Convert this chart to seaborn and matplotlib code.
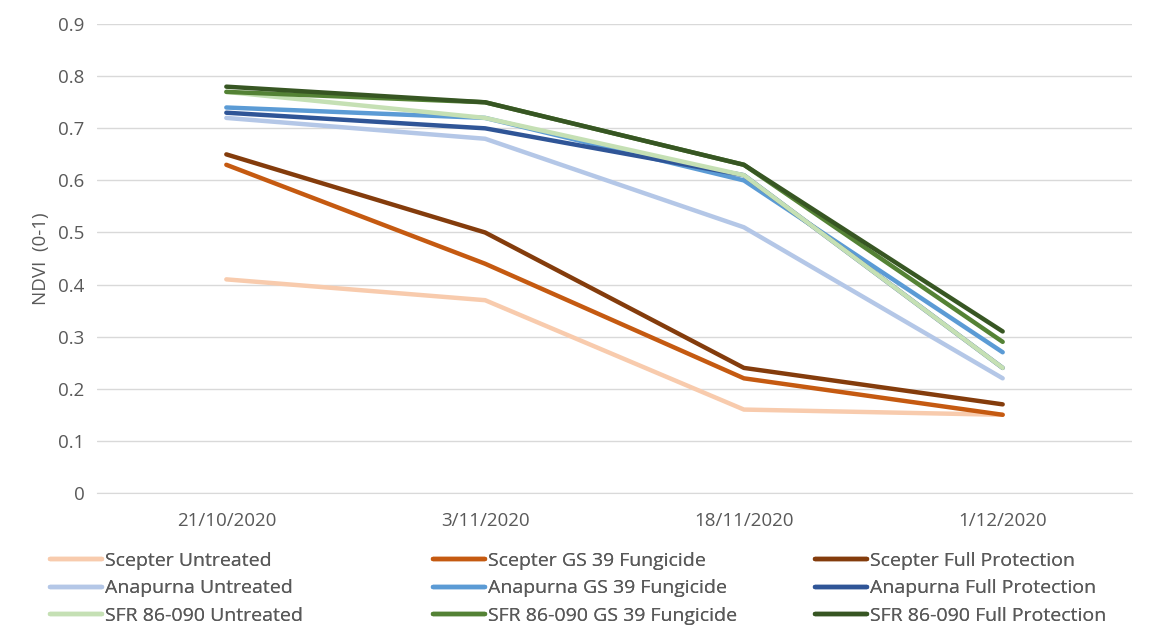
import pandas as pd
import seaborn as sns
import matplotlib.pyplot as plt

dates = ['21/10/2020', '3/11/2020', '18/11/2020', '1/12/2020']

scepter_untreated = [0.41, 0.37, 0.16, 0.15]
scepter_gs39 = [0.63, 0.44, 0.22, 0.15]
scepter_full = [0.65, 0.50, 0.24, 0.17]
anapurna_untreated = [0.72, 0.68, 0.51, 0.22]
anapurna_gs39 = [0.74, 0.72, 0.60, 0.27]
anapurna_full = [0.73, 0.70, 0.61, 0.24]
sfr_untreated = [0.77, 0.72, 0.61, 0.24]
sfr_gs39 = [0.77, 0.75, 0.63, 0.29]
sfr_full = [0.78, 0.75, 0.63, 0.31]

series = {
    'Scepter Untreated': scepter_untreated,
    'Scepter GS 39 Fungicide': scepter_gs39,
    'Scepter Full Protection': scepter_full,
    'Anapurna Untreated': anapurna_untreated,
    'Anapurna GS 39 Fungicide': anapurna_gs39,
    'Anapurna Full Protection': anapurna_full,
    'SFR 86-090 Untreated': sfr_untreated,
    'SFR 86-090 GS 39 Fungicide': sfr_gs39,
    'SFR 86-090 Full Protection': sfr_full,
}
colors = ['#F8CBAD', '#C55A11', '#843C0C',
          '#B4C7E7', '#5B9BD5', '#2F5597',
          '#C5E0B4', '#548235', '#375623']

rows = []
for name, vals in series.items():
    for d, v in zip(dates, vals):
        rows.append({'date': d, 'ndvi': v, 'treatment': name})
df = pd.DataFrame(rows)

sns.set_style('white')
plt.rcParams['font.family'] = ['Open Sans', 'DejaVu Sans']

fig, ax = plt.subplots(figsize=(11.54, 6.36), dpi=100)
fig.subplots_adjust(left=0.084, right=0.981, top=0.962, bottom=0.225)

sns.lineplot(data=df, x='date', y='ndvi', hue='treatment', palette=colors,
             linewidth=3.2, sort=False, ax=ax, legend=True)

ax.set_xlim(-0.5, 3.5)
ax.set_ylim(0, 0.9)
ax.set_yticks([i / 10 for i in range(10)])
ax.set_yticklabels(['0'] + [f'{i/10:.1f}' for i in range(1, 10)])
ax.yaxis.grid(True, color='#D9D9D9', linewidth=1)
ax.set_axisbelow(True)
for s in ['top', 'right', 'left']:
    ax.spines[s].set_visible(False)
ax.spines['bottom'].set_color('#D9D9D9')
ax.tick_params(axis='both', labelsize=13.5, colors='#595959', length=0)
ax.tick_params(axis='x', pad=14)
ax.tick_params(axis='y', pad=9)
ax.set_xlabel('')
ax.set_ylabel('NDVI  (0-1)', fontsize=13.5, color='#595959', labelpad=6)

handles, labels = ax.get_legend_handles_labels()
ax.get_legend().remove()

# Excel-style legend: three evenly spaced columns
col_x = [50, 433, 815]
for c in range(3):
    idx = [c, c + 3, c + 6]
    leg = fig.legend([handles[i] for i in idx], [labels[i] for i in idx],
                     loc='upper left', bbox_to_anchor=(col_x[c] / 1154, 1 - 552 / 636),
                     frameon=False, fontsize=14, handlelength=2.67,
                     handletextpad=0.15, labelspacing=0.48,
                     borderpad=0, borderaxespad=0)
    for t in leg.get_texts():
        t.set_color('#595959')
    for h in leg.legend_handles:
        h.set_linewidth(3.2)
    fig.add_artist(leg)

fig.savefig('out.png', dpi=100)
